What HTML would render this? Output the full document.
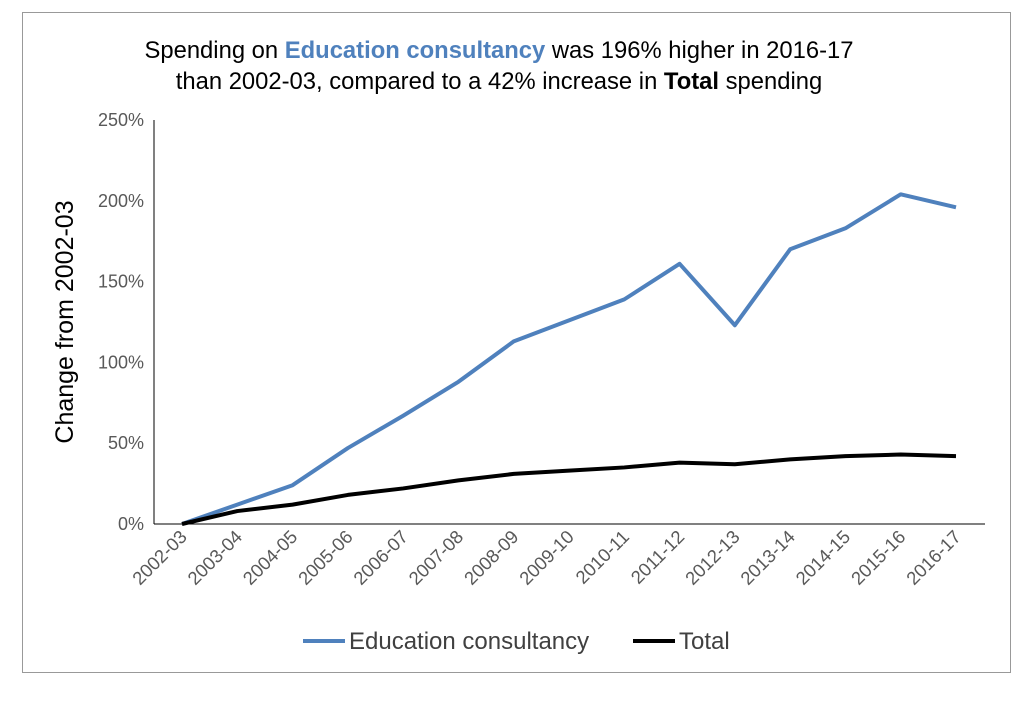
<!DOCTYPE html>
<html><head><meta charset="utf-8"><style>
body{margin:0;background:#fff;font-family:"Liberation Sans",sans-serif}
</style></head><body>
<svg width="1033" height="697" xmlns="http://www.w3.org/2000/svg" font-family="Liberation Sans, sans-serif">
<rect x="22.5" y="12.5" width="988" height="660" fill="#fff" stroke="#999"/>
<text x="499" y="58" font-size="23.8" text-anchor="middle">Spending on <tspan fill="#4f81bd" font-weight="bold">Education consultancy</tspan> was 196% higher in 2016-17</text>
<text x="499" y="89" font-size="23.8" text-anchor="middle">than 2002-03, compared to a 42% increase in <tspan font-weight="bold">Total</tspan> spending</text>
<text transform="translate(73,322) rotate(-90)" font-size="25" text-anchor="middle">Change from 2002-03</text>
<g id="axes"></g>
<g id="marks"></g>
<g>
<line x1="303" y1="641" x2="345" y2="641" stroke="#4f81bd" stroke-width="4"/>
<text x="349" y="649" font-size="24" fill="#404040">Education consultancy</text>
<line x1="633" y1="641" x2="675" y2="641" stroke="#000" stroke-width="4"/>
<text x="679" y="649" font-size="24" fill="#404040">Total</text>
</g>
</svg>
<script>
const categories=["2002-03","2003-04","2004-05","2005-06","2006-07","2007-08","2008-09","2009-10","2010-11","2011-12","2012-13","2013-14","2014-15","2015-16","2016-17"];
const educationValues=[0,12,24,47,67,88,113,126,139,161,123,170,183,204,196];
const totalValues=[0,8,12,18,22,27,31,33,35,38,37,40,42,43,42];
const yTicks=[0,50,100,150,200,250];
const yTickLabels=["0%","50%","100%","150%","200%","250%"];
const NS="http://www.w3.org/2000/svg";
const x0=182,x1=956,yBase=524,yTop=120,xAxisEnd=985,yAxisX=154;
const xs=i=>x0+(x1-x0)*i/(categories.length-1);
const ys=v=>yBase-(yBase-yTop)*v/250;
const axes=document.getElementById('axes'),marks=document.getElementById('marks');
function mk(tag,attrs,parent){const e=document.createElementNS(NS,tag);for(const k in attrs)e.setAttribute(k,attrs[k]);parent.appendChild(e);return e;}
let ya=mk('line',{x1:yAxisX,y1:yTop,x2:yAxisX,y2:yBase,stroke:'#000','stroke-width':1},axes);


let xa=mk('line',{x1:yAxisX,y1:yBase,x2:xAxisEnd,y2:yBase,stroke:'#000','stroke-width':1},axes);


yTicks.forEach((v,i)=>{
 let t=mk('text',{x:yAxisX-10,y:ys(v)+6,'font-size':18,fill:'#595959','text-anchor':'end'},axes);
 t.textContent=yTickLabels[i];
 
 
});
categories.forEach((c,i)=>{
 let t=mk('text',{transform:`translate(${xs(i)+6},${yBase+14}) rotate(-45)`,'font-size':18.5,fill:'#595959','text-anchor':'end'},axes);
 t.textContent=c;
 
 
});
function line(vals,color,name){
 let p=mk('polyline',{points:vals.map((v,i)=>xs(i)+','+ys(v)).join(' '),fill:'none',stroke:color,'stroke-width':4,'stroke-linejoin':'round'},marks);
 
 
}
line(educationValues,'#4f81bd','education-consultancy-line');
line(totalValues,'#000','total-line');
</script>
</body></html>
